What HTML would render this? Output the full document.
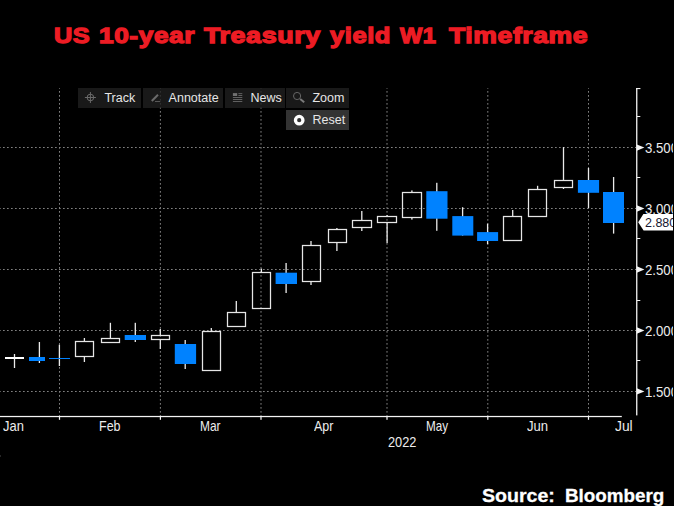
<!DOCTYPE html>
<html><head><meta charset="utf-8">
<style>
html,body{margin:0;padding:0;background:#000;}
body{width:674px;height:506px;position:relative;overflow:hidden;font-family:"Liberation Sans",sans-serif;}
#chart{position:absolute;left:0;top:0;}
.t{position:absolute;white-space:nowrap;line-height:1;}
.tw{position:absolute;top:24.3px;font-size:22.8px;font-weight:bold;color:#ed1c24;transform-origin:0 0;-webkit-text-stroke:1.3px #ed1c24;letter-spacing:0.5px;white-space:nowrap;line-height:1;}
.btn{position:absolute;height:20px;background:rgba(31,31,31,0.8);}
.btn span{position:absolute;top:3.9px;font-size:12.5px;line-height:13px;color:#e6e6e6;white-space:nowrap;}
.ax{font-size:14.2px;color:#ececec;transform-origin:0 0;}
.sw{position:absolute;top:485.8px;font-size:19px;font-weight:bold;color:#fff;transform-origin:0 0;letter-spacing:0;white-space:nowrap;line-height:1;-webkit-text-stroke:0.3px #fff;}
</style></head><body>
<svg id="chart" width="674" height="506" viewBox="0 0 674 506">
<line x1="0" y1="147.5" x2="636" y2="147.5" stroke="#808080" stroke-width="1" stroke-dasharray="1.7 2.3" stroke-dashoffset="1"/>
<line x1="0" y1="208.5" x2="636" y2="208.5" stroke="#808080" stroke-width="1" stroke-dasharray="1.7 2.3" stroke-dashoffset="1"/>
<line x1="0" y1="269.5" x2="636" y2="269.5" stroke="#808080" stroke-width="1" stroke-dasharray="1.7 2.3" stroke-dashoffset="1"/>
<line x1="0" y1="330.5" x2="636" y2="330.5" stroke="#808080" stroke-width="1" stroke-dasharray="1.7 2.3" stroke-dashoffset="1"/>
<line x1="0" y1="391.5" x2="636" y2="391.5" stroke="#808080" stroke-width="1" stroke-dasharray="1.7 2.3" stroke-dashoffset="1"/>
<line x1="59.5" y1="88" x2="59.5" y2="416" stroke="#808080" stroke-width="1" stroke-dasharray="1.7 2.3" stroke-dashoffset="1"/>
<line x1="160.4" y1="88" x2="160.4" y2="416" stroke="#808080" stroke-width="1" stroke-dasharray="1.7 2.3" stroke-dashoffset="1"/>
<line x1="261.0" y1="88" x2="261.0" y2="416" stroke="#808080" stroke-width="1" stroke-dasharray="1.7 2.3" stroke-dashoffset="1"/>
<line x1="387.0" y1="88" x2="387.0" y2="416" stroke="#808080" stroke-width="1" stroke-dasharray="1.7 2.3" stroke-dashoffset="1"/>
<line x1="487.8" y1="88" x2="487.8" y2="416" stroke="#808080" stroke-width="1" stroke-dasharray="1.7 2.3" stroke-dashoffset="1"/>
<line x1="588.5" y1="88" x2="588.5" y2="416" stroke="#808080" stroke-width="1" stroke-dasharray="1.7 2.3" stroke-dashoffset="1"/>
<rect x="13.85" y="354" width="1.3" height="14.00" fill="#ebebeb"/>
<rect x="5" y="357" width="19.00" height="2.00" fill="#ffffff"/>
<rect x="38.75" y="342" width="1.3" height="21.00" fill="#ebebeb"/>
<rect x="29" y="357" width="16.00" height="4.00" fill="#0082ff"/>
<rect x="58.75" y="344.7" width="1.3" height="21.30" fill="#ebebeb"/>
<rect x="49" y="358" width="21.00" height="1.00" fill="#0082ff"/>
<rect x="83.75" y="338" width="1.3" height="3.00" fill="#ebebeb"/>
<rect x="83.75" y="357" width="1.3" height="5.00" fill="#ebebeb"/>
<rect x="75.5" y="341.5" width="18.0" height="15.0" fill="none" stroke="#e6e6e6" stroke-width="1.25"/>
<rect x="109.75" y="322.8" width="1.3" height="15.20" fill="#ebebeb"/>
<rect x="101.5" y="338.5" width="18.0" height="4.0" fill="none" stroke="#e6e6e6" stroke-width="1.25"/>
<rect x="134.65" y="322.8" width="1.3" height="19.20" fill="#ebebeb"/>
<rect x="124.7" y="335" width="21.30" height="5.00" fill="#0082ff"/>
<rect x="159.65" y="329" width="1.3" height="6.00" fill="#ebebeb"/>
<rect x="159.65" y="340" width="1.3" height="9.00" fill="#ebebeb"/>
<rect x="151.5" y="335.5" width="18.0" height="4.0" fill="none" stroke="#e6e6e6" stroke-width="1.25"/>
<rect x="184.55" y="340" width="1.3" height="29.00" fill="#ebebeb"/>
<rect x="174.8" y="344" width="21.30" height="20.00" fill="#0082ff"/>
<rect x="210.65" y="328" width="1.3" height="3.00" fill="#ebebeb"/>
<rect x="202.5" y="331.5" width="18.0" height="39.0" fill="none" stroke="#e6e6e6" stroke-width="1.25"/>
<rect x="235.65" y="301" width="1.3" height="11.00" fill="#ebebeb"/>
<rect x="227.5" y="312.5" width="18.0" height="14.0" fill="none" stroke="#e6e6e6" stroke-width="1.25"/>
<rect x="260.75" y="268.6" width="1.3" height="3.40" fill="#ebebeb"/>
<rect x="252.5" y="272.5" width="18.0" height="36.0" fill="none" stroke="#e6e6e6" stroke-width="1.25"/>
<rect x="285.45" y="263" width="1.3" height="30.00" fill="#ebebeb"/>
<rect x="275.6" y="272.7" width="21.40" height="11.30" fill="#0082ff"/>
<rect x="310.35" y="241" width="1.3" height="4.00" fill="#ebebeb"/>
<rect x="310.35" y="282" width="1.3" height="3.00" fill="#ebebeb"/>
<rect x="302.5" y="245.5" width="18.0" height="36.0" fill="none" stroke="#e6e6e6" stroke-width="1.25"/>
<rect x="336.25" y="228" width="1.3" height="1.30" fill="#ebebeb"/>
<rect x="336.25" y="242.6" width="1.3" height="8.40" fill="#ebebeb"/>
<rect x="328.5" y="229.5" width="18.0" height="13.0" fill="none" stroke="#e6e6e6" stroke-width="1.25"/>
<rect x="361.15" y="211" width="1.3" height="9.40" fill="#ebebeb"/>
<rect x="361.15" y="227.7" width="1.3" height="3.30" fill="#ebebeb"/>
<rect x="352.5" y="220.5" width="19.0" height="7.0" fill="none" stroke="#e6e6e6" stroke-width="1.25"/>
<rect x="386.45" y="215" width="1.3" height="1.30" fill="#ebebeb"/>
<rect x="386.45" y="222.7" width="1.3" height="20.30" fill="#ebebeb"/>
<rect x="377.5" y="216.5" width="19.0" height="6.0" fill="none" stroke="#e6e6e6" stroke-width="1.25"/>
<rect x="411.25" y="190.4" width="1.3" height="1.80" fill="#ebebeb"/>
<rect x="411.25" y="217.8" width="1.3" height="1.80" fill="#ebebeb"/>
<rect x="402.5" y="192.5" width="19.0" height="25.0" fill="none" stroke="#e6e6e6" stroke-width="1.25"/>
<rect x="436.15" y="182.8" width="1.3" height="48.00" fill="#ebebeb"/>
<rect x="426.3" y="191.2" width="21.20" height="27.50" fill="#0082ff"/>
<rect x="461.95" y="207.2" width="1.3" height="28.40" fill="#ebebeb"/>
<rect x="452.3" y="216.1" width="21.00" height="19.50" fill="#0082ff"/>
<rect x="486.95" y="223.7" width="1.3" height="20.50" fill="#ebebeb"/>
<rect x="477.1" y="232.1" width="21.00" height="8.90" fill="#0082ff"/>
<rect x="512.05" y="210" width="1.3" height="6.20" fill="#ebebeb"/>
<rect x="503.5" y="216.5" width="18.0" height="24.0" fill="none" stroke="#e6e6e6" stroke-width="1.25"/>
<rect x="536.95" y="185.8" width="1.3" height="3.20" fill="#ebebeb"/>
<rect x="528.5" y="189.5" width="18.0" height="27.0" fill="none" stroke="#e6e6e6" stroke-width="1.25"/>
<rect x="562.85" y="147.1" width="1.3" height="32.90" fill="#ebebeb"/>
<rect x="562.85" y="187.8" width="1.3" height="1.20" fill="#ebebeb"/>
<rect x="554.5" y="180.5" width="18.0" height="7.0" fill="none" stroke="#e6e6e6" stroke-width="1.25"/>
<rect x="587.85" y="168" width="1.3" height="40.00" fill="#ebebeb"/>
<rect x="577.9" y="180" width="21.20" height="12.80" fill="#0082ff"/>
<rect x="612.95" y="177" width="1.3" height="56.60" fill="#ebebeb"/>
<rect x="603" y="192" width="21.00" height="31.00" fill="#0082ff"/>
<rect x="0" y="415.9" width="621.8" height="1.25" fill="#f4f4f4"/>
<rect x="58.90" y="416" width="1.2" height="3.8" fill="#f4f4f4"/>
<rect x="159.80" y="416" width="1.2" height="3.8" fill="#f4f4f4"/>
<rect x="260.40" y="416" width="1.2" height="3.8" fill="#f4f4f4"/>
<rect x="386.40" y="416" width="1.2" height="3.8" fill="#f4f4f4"/>
<rect x="487.20" y="416" width="1.2" height="3.8" fill="#f4f4f4"/>
<rect x="587.90" y="416" width="1.2" height="3.8" fill="#f4f4f4"/>
<rect x="636.1" y="88" width="1.3" height="327.4" fill="#f4f4f4"/>
<rect x="636.1" y="88" width="4.3" height="1.1" fill="#f4f4f4"/>
<rect x="637" y="116" width="3.3" height="1" fill="#f0f0f0"/>
<path d="M636.8 144.40 L644.4 147.60 L636.8 150.80 Z" fill="#f4f4f4"/>
<rect x="637" y="177" width="3.3" height="1" fill="#f0f0f0"/>
<path d="M636.8 205.35 L644.4 208.55 L636.8 211.75 Z" fill="#f4f4f4"/>
<rect x="637" y="238" width="3.3" height="1" fill="#f0f0f0"/>
<path d="M636.8 266.30 L644.4 269.50 L636.8 272.70 Z" fill="#f4f4f4"/>
<rect x="637" y="300" width="3.3" height="1" fill="#f0f0f0"/>
<path d="M636.8 327.25 L644.4 330.45 L636.8 333.65 Z" fill="#f4f4f4"/>
<rect x="637" y="360" width="3.3" height="1" fill="#f0f0f0"/>
<path d="M636.8 388.20 L644.4 391.40 L636.8 394.60 Z" fill="#f4f4f4"/>
<rect x="0" y="455" width="1" height="2" fill="#262626"/>
<path d="M638.2 222.3 L643.4 214.1 L674 214.1 L674 230.6 L643.6 230.6 Z" fill="#ffffff"/>
</svg>
<div class="tw" id="tw0" style="left:53.97px;transform:scaleX(1.1115)">US</div><div class="tw" id="tw1" style="left:98.70px;transform:scaleX(1.1523)">10-year</div><div class="tw" id="tw2" style="left:204.12px;transform:scaleX(1.1792)">Treasury</div><div class="tw" id="tw3" style="left:329.69px;transform:scaleX(1.1210)">yield</div><div class="tw" id="tw4" style="left:400.42px;transform:scaleX(1.0375)">W1</div><div class="tw" id="tw5" style="left:449.04px;transform:scaleX(1.1657)">Timeframe</div>

<div class="btn" style="left:78px;top:88px;width:63px;"><svg width="24" height="20" style="position:absolute;left:0;top:0" viewBox="0 0 24 20"><g stroke="#6a6a6a" stroke-width="1" fill="none"><circle cx="12.4" cy="9.5" r="3.3"/><path d="M6.9 9.5H17.9M12.4 4V15"/></g></svg><span style="left:26.4px">Track</span></div>
<div class="btn" style="left:142.8px;top:88px;width:80px;"><svg width="24" height="20" style="position:absolute;left:0;top:0" viewBox="0 0 24 20"><path d="M8.8 13L15 6.8" stroke="#6a6a6a" stroke-width="2" fill="none"/><path d="M12 13.5H17.2" stroke="#585858" stroke-width="1" fill="none"/></svg><span style="left:25.8px">Annotate</span></div>
<div class="btn" style="left:224.6px;top:88px;width:60.2px;"><svg width="24" height="20" style="position:absolute;left:0;top:0" viewBox="0 0 24 20"><g fill="#606060"><rect x="7.9" y="5.1" width="4.3" height="2.9" fill="#707070"/><rect x="13.4" y="5.1" width="3.9" height="1"/><rect x="13.4" y="7" width="3.9" height="1"/><rect x="7.9" y="9" width="9.4" height="1"/><rect x="7.9" y="11" width="9.4" height="1"/><rect x="7.9" y="13" width="9.4" height="1"/></g></svg><span style="left:26px">News</span></div>
<div class="btn" style="left:286.2px;top:88px;width:62.5px;"><svg width="24" height="20" style="position:absolute;left:0;top:0" viewBox="0 0 24 20"><circle cx="11.1" cy="8" r="3.6" stroke="#666" stroke-width="1" fill="none"/><path d="M14.2 11L18.2 14.2" stroke="#7a7a7a" stroke-width="2" fill="none"/></svg><span style="left:26.3px">Zoom</span></div>
<div class="btn" style="left:286.2px;top:109.7px;width:62.5px;height:20.4px;background:#333;"><svg width="24" height="21" style="position:absolute;left:0;top:0" viewBox="0 0 24 21"><circle cx="13.2" cy="10.2" r="3.75" stroke="#fff" stroke-width="3.3" fill="none"/></svg><span style="left:26.4px;top:4.3px">Reset</span></div>

<div class="t ax" id="lJan" style="left:2.80px;top:418.60px;transform:scaleX(0.9110);">Jan</div>
<div class="t ax" id="lFeb" style="left:98.65px;top:418.60px;transform:scaleX(0.8800);">Feb</div>
<div class="t ax" id="lMar" style="left:199.50px;top:418.60px;transform:scaleX(0.8400);">Mar</div>
<div class="t ax" id="lApr" style="left:313.80px;top:418.60px;transform:scaleX(0.8800);">Apr</div>
<div class="t ax" id="lMay" style="left:425.50px;top:418.60px;transform:scaleX(0.8220);">May</div>
<div class="t ax" id="lJun" style="left:526.60px;top:418.60px;transform:scaleX(0.9240);">Jun</div>
<div class="t ax" id="lJul" style="left:614.70px;top:418.60px;transform:scaleX(0.9750);">Jul</div>
<div class="t ax" id="l2022" style="left:388.00px;top:435.30px;transform:scaleX(0.9000);">2022</div>
<div class="t ax" id="y3500" style="left:645.20px;top:141.20px;transform:scaleX(0.9300);">3.500</div>
<div class="t ax" id="y3000" style="left:645.20px;top:202.10px;transform:scaleX(0.9300);">3.000</div>
<div class="t ax" id="y2500" style="left:645.20px;top:263.10px;transform:scaleX(0.9300);">2.500</div>
<div class="t ax" id="y2000" style="left:645.20px;top:324.00px;transform:scaleX(0.9300);">2.000</div>
<div class="t ax" id="y1500" style="left:645.20px;top:385.00px;transform:scaleX(0.9300);">1.500</div>
<div class="t ax" id="y2880" style="left:645.00px;top:216.10px;transform:scaleX(0.9600);color:#161630;font-size:13px;">2.880</div>

<div style="position:absolute;left:673px;top:0;width:1px;height:506px;background:#000"></div>
<div class="sw" style="left:481.6px;transform:scaleX(1.03)">Source:</div><div class="sw" style="left:565.2px;transform:scaleX(0.99)">Bloomberg</div>
</body></html>
